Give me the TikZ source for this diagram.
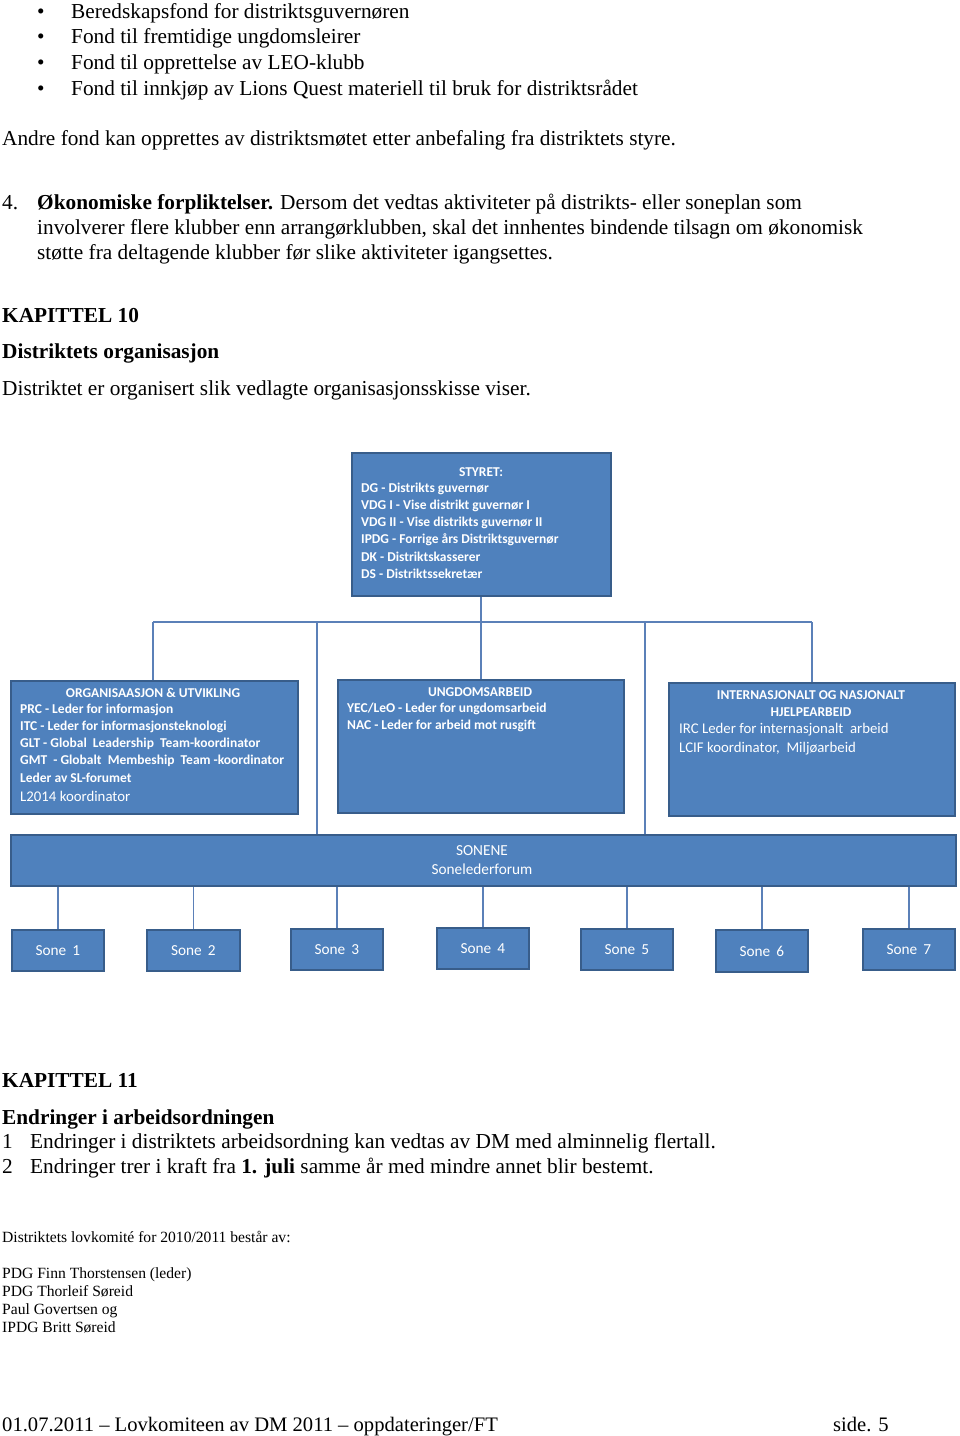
\documentclass[tikz,border=0pt]{standalone}
\usepackage{fontspec}
\setmainfont{Liberation Serif}
\newfontfamily\calfont{Carlito}
\definecolor{boxblue}{HTML}{4F81BD}
\definecolor{boxedge}{HTML}{385D8A}
\definecolor{linkblue}{HTML}{5B80B8}
\begin{document}
\begin{tikzpicture}[x=1pt,y=-1pt,
  body/.style={anchor=base west, inner sep=0pt, font=\fontsize{21.3}{25}\selectfont},
  small/.style={anchor=base west, inner sep=0pt, font=\fontsize{15.6}{18}\selectfont},
  foot/.style={anchor=base west, inner sep=0pt, font=\fontsize{20.6}{24}\selectfont},
  orgbox/.style={draw=boxedge, line width=1.8pt, fill=boxblue, inner sep=0pt, anchor=north west},
  boxtxt/.style={text=white, inner sep=0pt, font=\calfont\bfseries\fontsize{13.5}{16}\selectfont},
  boxline/.style={boxtxt, anchor=west},
  boxreg/.style={text=white, inner sep=0pt, anchor=west, font=\calfont\fontsize{14.8}{17}\selectfont},
  zonetxt/.style={text=white, inner sep=0pt, font=\calfont\fontsize{15.3}{18}\selectfont},
  link/.style={draw=linkblue, line width=1.4pt}
]
\useasboundingbox[fill=white] (0,0) rectangle (960,1436);

% ---------- body text top ----------
\foreach \yy/\tt in {18/Beredskapsfond for distriktsguvernøren,
                     43/Fond til fremtidige ungdomsleirer,
                     69/Fond til opprettelse av LEO-klubb,
                     95/Fond til innkjøp av Lions Quest materiell til bruk for distriktsrådet}{
  \node[body] (b\yy) at (37,\yy) {\textbullet};
  \node[body] (t\yy) at (71,\yy) {\tt};
}
\node[body] (andre) at (2,145) {Andre fond kan opprettes av distriktsmøtet etter anbefaling fra distriktets styre.};
\node[body] (n4) at (2,209) {4.};
\node[body] (p4a) at (37,209) {\textbf{Økonomiske forpliktelser.} Dersom det vedtas aktiviteter på distrikts- eller soneplan som};
\node[body] (p4b) at (37,234) {involverer flere klubber enn arrangørklubben, skal det innhentes bindende tilsagn om økonomisk};
\node[body] (p4c) at (37,259) {støtte fra deltagende klubber før slike aktiviteter igangsettes.};
\node[body] (k10) at (2,322) {\textbf{KAPITTEL 10}};
\node[body] (k10t) at (2,358) {\textbf{Distriktets organisasjon}};
\node[body] (k10s) at (2,395) {Distriktet er organisert slik vedlagte organisasjonsskisse viser.};

% ---------- chart boxes ----------
\node[orgbox, minimum width=259pt, minimum height=143pt] (styret) at (351,452) {};
\node[orgbox, minimum width=287pt, minimum height=133pt] (org) at (10,680) {};
\node[orgbox, minimum width=286pt, minimum height=133pt] (ung) at (337,679) {};
\node[orgbox, minimum width=286pt, minimum height=133pt] (int) at (668,682) {};
\node[orgbox, minimum width=945pt, minimum height=51pt] (sonene) at (10,834) {};
\node[orgbox, minimum width=92pt, minimum height=41pt] (z1) at (11,929) {};
\node[orgbox, minimum width=93pt, minimum height=41pt] (z2) at (146,929) {};
\node[orgbox, minimum width=92pt, minimum height=41pt] (z3) at (290,928) {};
\node[orgbox, minimum width=92pt, minimum height=41pt] (z4) at (436,927) {};
\node[orgbox, minimum width=92pt, minimum height=41pt] (z5) at (580,928) {};
\node[orgbox, minimum width=92pt, minimum height=42pt] (z6) at (715,929) {};
\node[orgbox, minimum width=92pt, minimum height=41pt] (z7) at (862,928) {};

% ---------- connectors ----------
\coordinate (bus) at (481,622);
\coordinate (busL) at (153,622);
\coordinate (busA) at (317,622);
\coordinate (busB) at (645,622);
\coordinate (busR) at (812,622);
\draw[link] (styret.south -| bus) -- (bus);
\draw[link] (busL) -- (busR);
\draw[link] (busL) -- (busL |- org.north);
\draw[link] (busA) -- (busA |- sonene.north);
\draw[link] (bus) -- (bus |- ung.north);
\draw[link] (busB) -- (busB |- sonene.north);
\draw[link] (busR) -- (busR |- int.north);
\foreach \z in {1,...,7}{
  \draw[link] (sonene.south -| z\z.north) -- (z\z.north);
}

% ---------- box texts ----------
\node[boxtxt] (styh) at (481,472) {STYRET:};
\node[boxline] (s1) at (361,489) {DG - Distrikts guvernør};
\node[boxline] (s2) at (361,506) {VDG I - Vise distrikt guvernør I};
\node[boxline] (s3) at (361,523) {VDG II - Vise distrikts guvernør II};
\node[boxline] (s4) at (361,540) {IPDG - Forrige års Distriktsguvernør};
\node[boxline] (s5) at (361,557) {DK - Distriktskasserer};
\node[boxline] (s6) at (361,574) {DS - Distriktssekretær};

\node[boxtxt] (orgh) at (153,693) {ORGANISAASJON \& UTVIKLING};
\node[boxline] (o1) at (20,710) {PRC - Leder for informasjon};
\node[boxline] (o2) at (20,727) {ITC - Leder for informasjonsteknologi};
\node[boxline] (o3) at (20,744) {GLT - Global\ \ Leadership\ \ Team-koordinator};
\node[boxline] (o4) at (20,761) {GMT\ \ - Globalt\ \ Membeship\ \ Team -koordinator};
\node[boxline] (o5) at (20,778) {Leder av SL-forumet};
\node[boxreg] (o6) at (20,796) {L2014 koordinator};

\node[boxtxt] (ungh) at (480,692) {UNGDOMSARBEID};
\node[boxline] (u1) at (347,709) {YEC/LeO - Leder for ungdomsarbeid};
\node[boxline] (u2) at (347,726) {NAC - Leder for arbeid mot rusgift};

\node[boxtxt] (inth1) at (811,695) {INTERNASJONALT OG NASJONALT};
\node[boxtxt] (inth2) at (811,712) {HJELPEARBEID};
\node[boxreg] (i1) at (679,730) {IRC Leder for internasjonalt\ \ arbeid};
\node[boxreg] (i2) at (679,749) {LCIF koordinator,\ \ Miljøarbeid};

\node[zonetxt] (sonh) at (482,851) {SONENE};
\node[zonetxt] (sonf) at (482,869) {Sonelederforum};
\foreach \z in {1,...,7}{
  \node[zonetxt] (zt\z) at (z\z.center) {Sone\hspace{0.4em}\z};
}

% ---------- body text bottom ----------
\node[body] (k11) at (2,1087) {\textbf{KAPITTEL 11}};
\node[body] (k11t) at (2,1124) {\textbf{Endringer i arbeidsordningen}};
\node[body] (e1n) at (2,1148) {1};
\node[body] (e1) at (30,1148) {Endringer i distriktets arbeidsordning kan vedtas av DM med alminnelig flertall.};
\node[body] (e2n) at (2,1173) {2};
\node[body] (e2) at (30,1173) {Endringer trer i kraft fra \textbf{1. juli} samme år med mindre annet blir bestemt.};

\node[small] (lk) at (2,1242) {Distriktets lovkomité for 2010/2011 består av:};
\node[small] (m1) at (2,1278) {PDG Finn Thorstensen (leder)};
\node[small] (m2) at (2,1296) {PDG Thorleif Søreid};
\node[small] (m3) at (2,1314) {Paul Govertsen og};
\node[small] (m4) at (2,1332) {IPDG Britt Søreid};

\node[foot] (footl) at (2,1431) {01.07.2011 – Lovkomiteen av DM 2011 – oppdateringer/FT};
\node[foot] (side) at (833,1431) {side. 5};
\end{tikzpicture}
\end{document}
